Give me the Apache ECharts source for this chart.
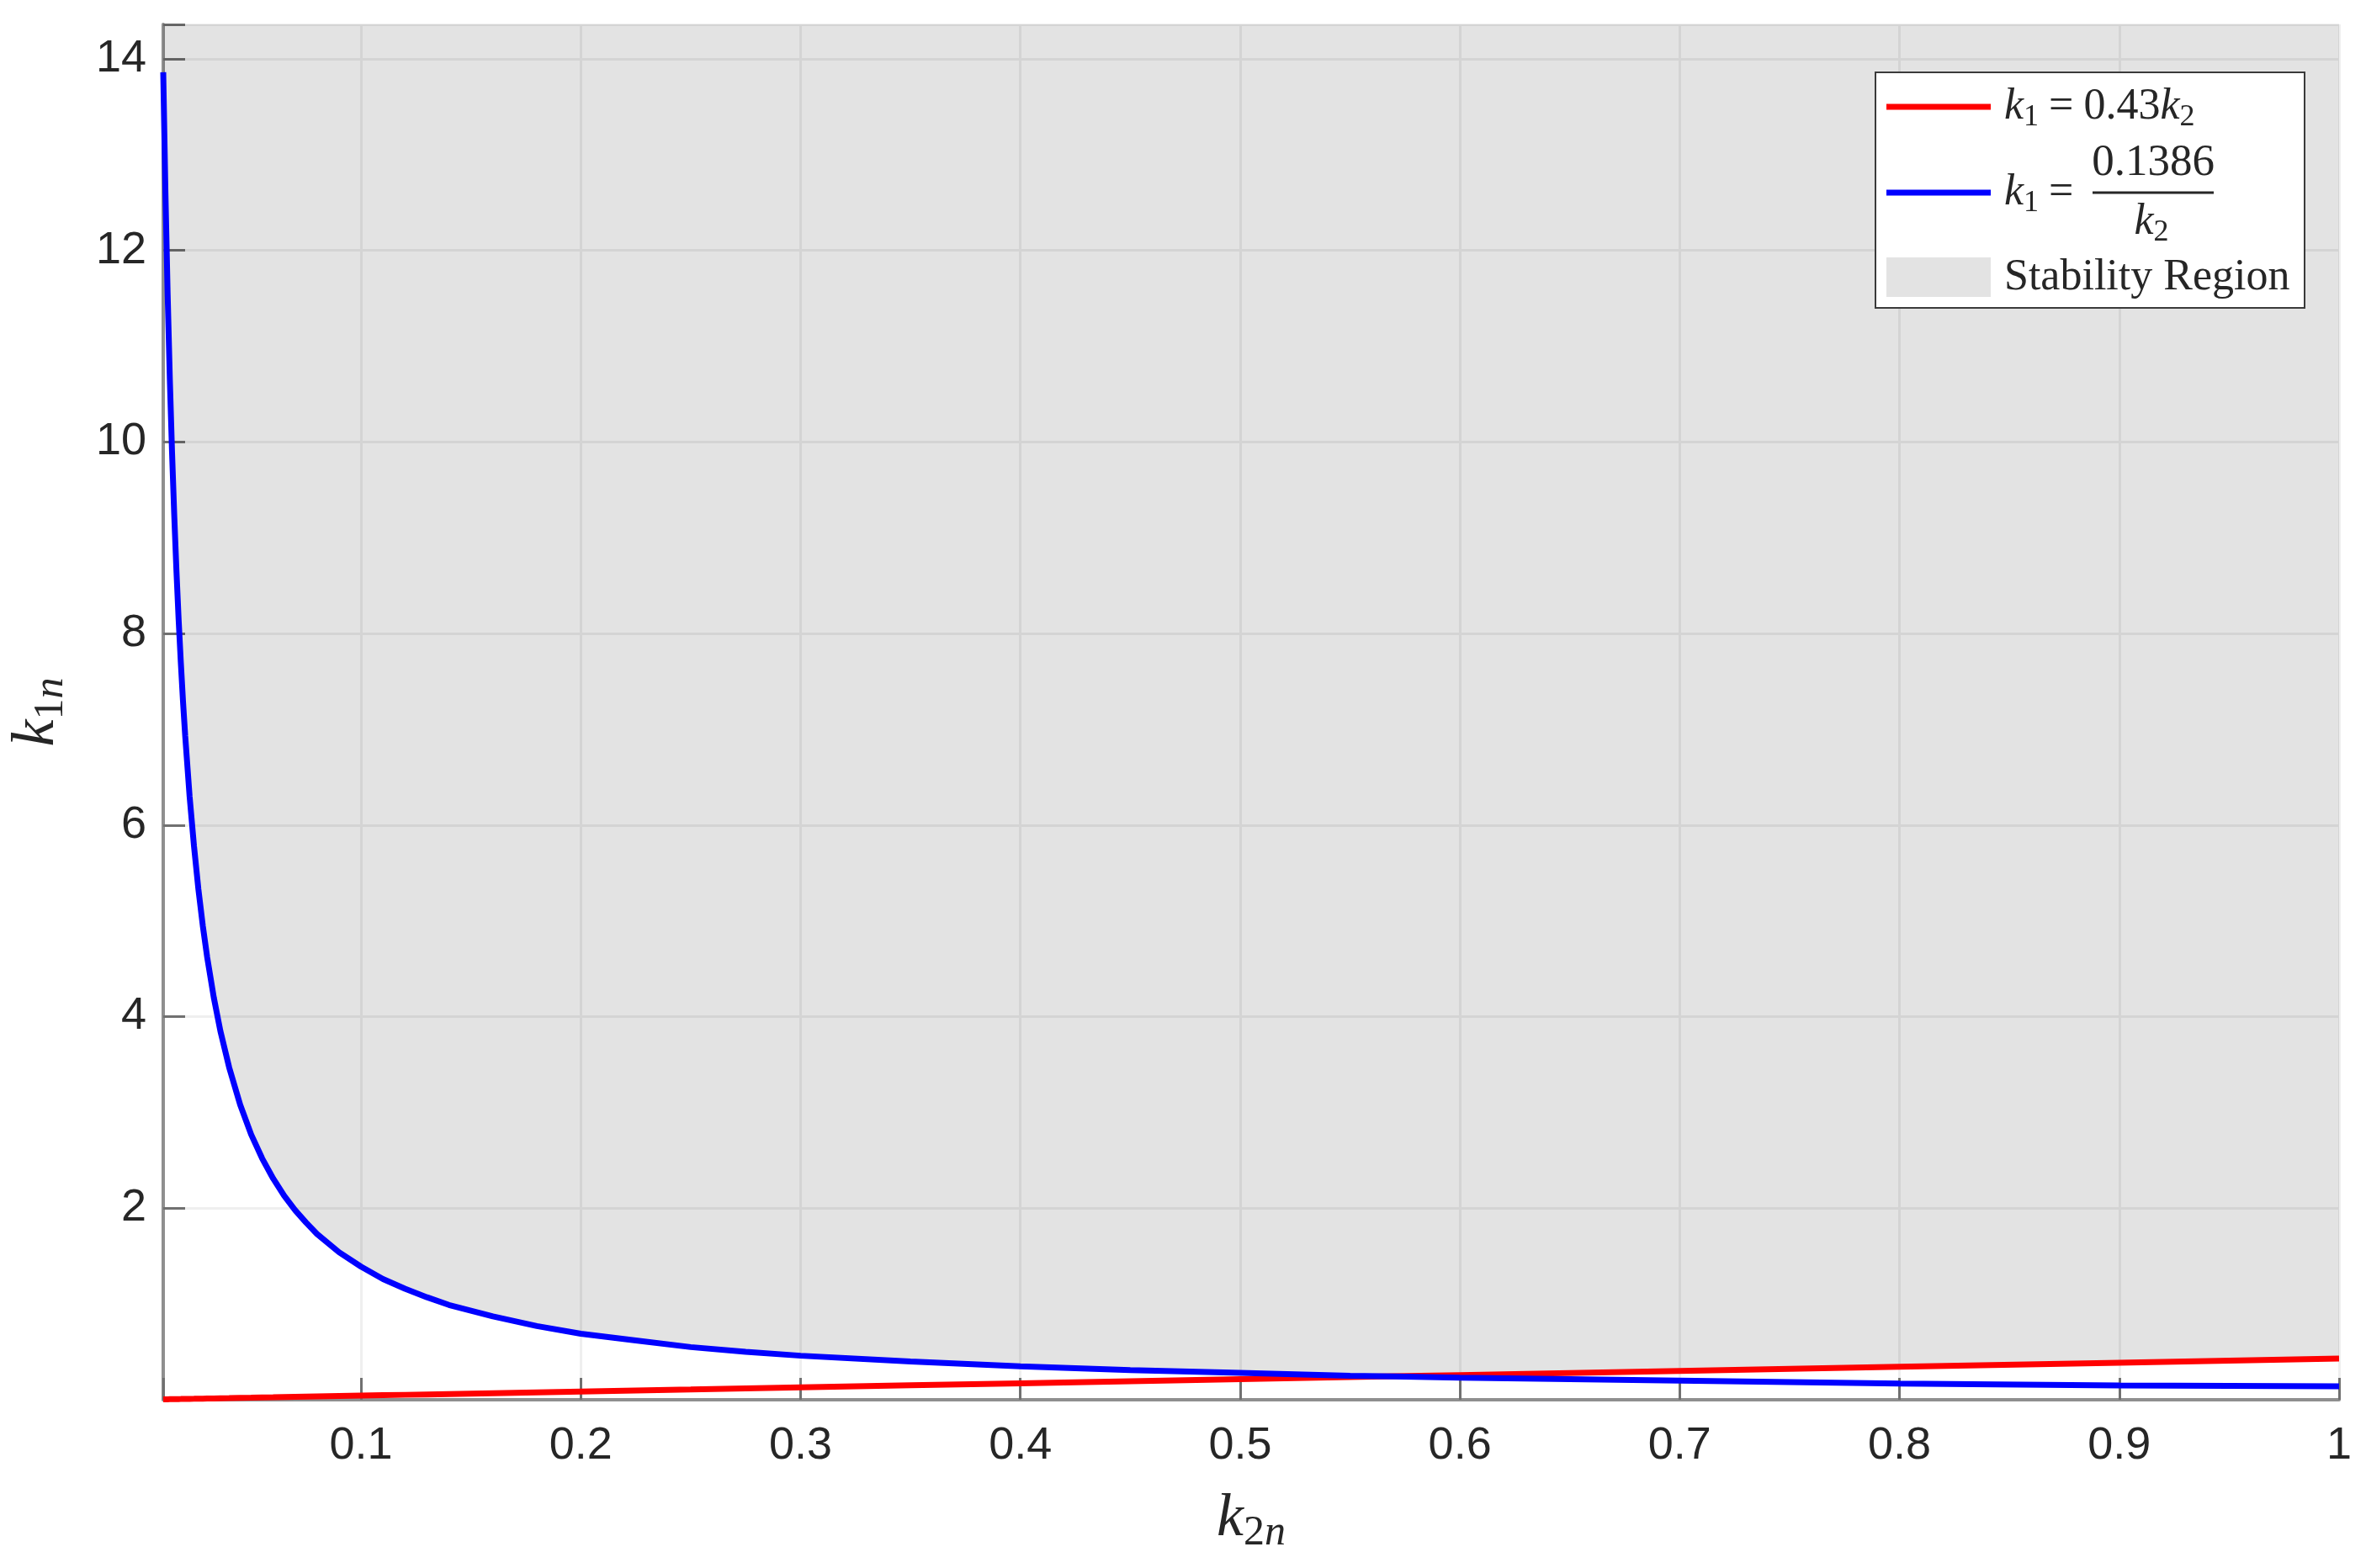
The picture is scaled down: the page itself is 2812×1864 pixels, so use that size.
<!DOCTYPE html>
<html>
<head>
<meta charset="utf-8">
<script src="https://cdn.jsdelivr.net/npm/echarts@6/dist/echarts.min.js"></script>
<style>
html, body { margin: 0; padding: 0; background: #fff; }
#chart { width: 2812px; height: 1864px; }
</style>
</head>
<body>
<div id="chart"></div>
<script>
// values
var k2n = [0.01, 0.011, 0.012, 0.013, 0.014, 0.015, 0.016, 0.017, 0.018, 0.019,
    0.02, 0.022, 0.024, 0.026, 0.028, 0.03, 0.033, 0.036, 0.04, 0.045,
    0.05, 0.055, 0.06, 0.065, 0.07, 0.075, 0.08, 0.09, 0.1, 0.11,
    0.12, 0.13, 0.14, 0.16, 0.18, 0.2, 0.225, 0.25, 0.275, 0.3,
    0.35, 0.4, 0.45, 0.5, 0.55, 0.57, 0.6, 0.7, 0.8, 0.9, 1.0];
var k1Linear = [0.0043, 0.0047, 0.0052, 0.0056, 0.0060, 0.0065, 0.0069, 0.0073, 0.0077, 0.0082,
    0.0086, 0.0095, 0.0103, 0.0112, 0.0120, 0.0129, 0.0142, 0.0155, 0.0172, 0.0194,
    0.0215, 0.0237, 0.0258, 0.0280, 0.0301, 0.0323, 0.0344, 0.0387, 0.043, 0.0473,
    0.0516, 0.0559, 0.0602, 0.0688, 0.0774, 0.086, 0.0968, 0.1075, 0.1183, 0.129,
    0.1505, 0.172, 0.1935, 0.215, 0.2365, 0.2451, 0.258, 0.301, 0.344, 0.387, 0.43];
var k1Recip = [13.86, 12.60, 11.55, 10.66, 9.90, 9.24, 8.66, 8.15, 7.70, 7.29,
    6.93, 6.30, 5.78, 5.33, 4.95, 4.62, 4.20, 3.85, 3.47, 3.08,
    2.77, 2.52, 2.31, 2.13, 1.98, 1.85, 1.73, 1.54, 1.39, 1.26,
    1.16, 1.07, 0.99, 0.87, 0.77, 0.69, 0.62, 0.55, 0.50, 0.46,
    0.40, 0.35, 0.31, 0.28, 0.25, 0.243, 0.23, 0.20, 0.17, 0.15, 0.14];
var xTickLabels = ['0.1', '0.2', '0.3', '0.4', '0.5', '0.6', '0.7', '0.8', '0.9', '1'];
var yTickLabels = ['2', '4', '6', '8', '10', '12', '14'];

var serif = '"Liberation Serif", "Times New Roman", serif';
var sans = '"Liberation Sans", Arial, Helvetica, sans-serif';
var ink = '#262626';

var myChart = echarts.init(document.getElementById('chart'));

function pairs(ys) {
    return k2n.map(function (x, i) { return [x, ys[i]]; });
}
var regionEdge = k2n.map(function (x, i) { return [x, Math.max(k1Linear[i], k1Recip[i])]; });

var mathRich = {
    i: { fontFamily: serif, fontStyle: 'italic', fontSize: 52, fill: ink },
    r: { fontFamily: serif, fontSize: 52, fill: ink },
    eq: { fontFamily: serif, fontSize: 52, fill: ink, padding: [0, 12, 0, 12] },
    s: { fontFamily: serif, fontSize: 36, fill: ink, padding: [26, 0, 0, 0] }
};

var nameRich = {
    i: { fontFamily: serif, fontStyle: 'italic', fontSize: 72, color: ink },
    d: { fontFamily: serif, fontSize: 50, color: ink, padding: [34, 0, 0, 0] },
    s: { fontFamily: serif, fontStyle: 'italic', fontSize: 50, color: ink, padding: [34, 0, 0, 0] }
};

var axisCommon = {
    axisLine: { show: true, lineStyle: { color: '#8f8f8f', width: 4 } },
    axisTick: { show: true, inside: true, length: 26, lineStyle: { color: '#707070', width: 3 } },
    splitLine: { show: true, lineStyle: { color: '#efefef', width: 3 } }
};

option = {
    animation: false,
    backgroundColor: '#ffffff',
    grid: {
        left: 194,
        right: 32,
        top: 29,
        bottom: 200,
        containLabel: false
    },
    xAxis: {
        type: 'value',
        min: 0.01,
        max: 1,
        splitNumber: 10,
        name: '{i|k}{d|2}{s|n}',
        nameLocation: 'middle',
        nameGap: 100,
        nameTextStyle: { rich: nameRich },
        axisLine: axisCommon.axisLine,
        axisTick: axisCommon.axisTick,
        splitLine: axisCommon.splitLine,
        axisLabel: {
            margin: 28,
            fontFamily: sans,
            fontSize: 54,
            color: ink,
            formatter: function (v) {
                var s = String(+v.toFixed(2));
                return xTickLabels.indexOf(s) >= 0 ? s : '';
            }
        }
    },
    yAxis: {
        type: 'value',
        min: 0,
        max: 14.36,
        interval: 2,
        name: '{i|k}{d|1}{s|n}',
        nameLocation: 'middle',
        nameGap: 108,
        nameTextStyle: { rich: nameRich },
        axisLine: axisCommon.axisLine,
        axisTick: axisCommon.axisTick,
        splitLine: axisCommon.splitLine,
        axisLabel: {
            margin: 20,
            fontFamily: sans,
            fontSize: 54,
            color: ink,
            formatter: function (v) {
                var s = String(+v.toFixed(2));
                return yTickLabels.indexOf(s) >= 0 ? s : '';
            }
        }
    },
    series: [
        {
            name: 'Stability Region',
            type: 'line',
            data: regionEdge,
            symbol: 'none',
            silent: true,
            z: 1,
            lineStyle: { width: 0, opacity: 0 },
            areaStyle: { origin: 'end', color: 'rgba(0,0,0,0.11)', opacity: 1 }
        },
        {
            name: 'k1 = 0.43k2',
            type: 'line',
            data: pairs(k1Linear),
            symbol: 'none',
            clip: false,
            z: 3,
            lineStyle: { color: '#ff0000', width: 7 }
        },
        {
            name: 'k1 = 0.1386/k2',
            type: 'line',
            data: pairs(k1Recip),
            symbol: 'none',
            clip: false,
            z: 4,
            lineStyle: { color: '#0000ff', width: 7 }
        }
    ],
    graphic: [
        { type: 'rect', shape: { x: 2229, y: 86, width: 510, height: 280 },
          style: { fill: '#ffffff', stroke: '#3a3a3a', lineWidth: 2 }, z: 100 },
        { type: 'line', shape: { x1: 2242, y1: 127, x2: 2366, y2: 127 },
          style: { stroke: '#ff0000', lineWidth: 7 }, z: 101 },
        { type: 'text', x: 2382, y: 127, z: 101,
          style: { text: '{i|k}{s|1}{eq|=}{r|0.43}{i|k}{s|2}', rich: mathRich, verticalAlign: 'middle', align: 'left' } },
        { type: 'line', shape: { x1: 2242, y1: 229, x2: 2366, y2: 229 },
          style: { stroke: '#0000ff', lineWidth: 7 }, z: 101 },
        { type: 'text', x: 2382, y: 229, z: 101,
          style: { text: '{i|k}{s|1}{eq|=}', rich: mathRich, verticalAlign: 'middle', align: 'left' } },
        { type: 'text', x: 2559, y: 194, z: 101,
          style: { text: '0.1386', font: '53px ' + serif, fill: ink, verticalAlign: 'middle', align: 'center' } },
        { type: 'line', shape: { x1: 2487, y1: 229, x2: 2631, y2: 229 },
          style: { stroke: ink, lineWidth: 3 }, z: 101 },
        { type: 'text', x: 2557, y: 264, z: 101,
          style: { text: '{i|k}{s|2}', rich: mathRich, verticalAlign: 'middle', align: 'center' } },
        { type: 'rect', shape: { x: 2242, y: 306, width: 124, height: 47 },
          style: { fill: '#e3e3e3' }, z: 101 },
        { type: 'text', x: 2382, y: 330, z: 101,
          style: { text: 'Stability Region', font: '52px ' + serif, fill: ink, verticalAlign: 'middle', align: 'left' } }
    ]
};
myChart.setOption(option);
</script>
</body>
</html>
